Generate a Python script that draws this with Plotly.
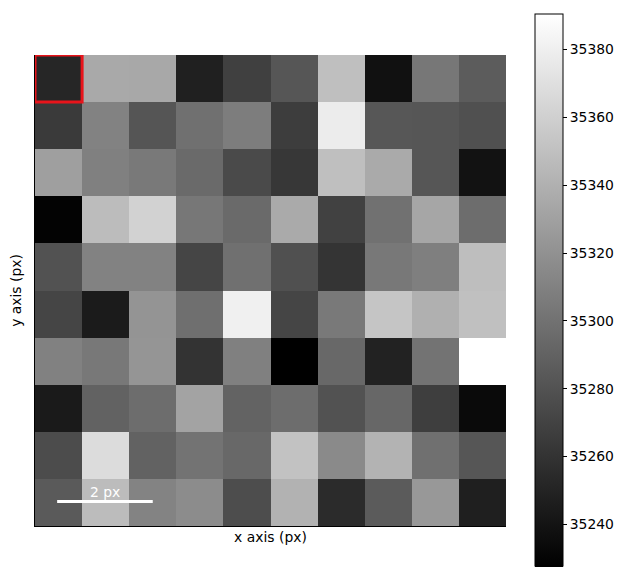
import plotly.graph_objects as go

x_idx = list(range(10))
y_idx = list(range(10))

row0 = [35251.8, 35335.4, 35334.8, 35248.0, 35268.4, 35282.5, 35349.5, 35238.4, 35303.5, 35286.3]
row1 = [35264.6, 35310.5, 35281.8, 35299.1, 35307.4, 35266.5, 35378.2, 35283.1, 35282.5, 35278.6]
row2 = [35329.0, 35309.3, 35304.8, 35295.2, 35274.8, 35262.7, 35349.5, 35336.1, 35282.5, 35239.1]
row3 = [35229.5, 35347.5, 35361.6, 35303.5, 35295.2, 35336.1, 35269.1, 35299.7, 35333.5, 35297.1]
row4 = [35279.9, 35310.5, 35310.5, 35271.6, 35299.1, 35278.6, 35260.8, 35304.2, 35308.6, 35348.8]
row5 = [35271.6, 35244.8, 35322.0, 35298.4, 35380.7, 35271.6, 35304.8, 35353.3, 35339.9, 35350.1]
row6 = [35309.9, 35304.2, 35322.7, 35260.1, 35309.3, 35227.6, 35294.0, 35249.3, 35301.0, 35390.3]
row7 = [35244.2, 35290.1, 35297.1, 35331.6, 35290.8, 35297.1, 35279.9, 35293.3, 35267.2, 35234.0]
row8 = [35276.1, 35368.0, 35290.1, 35301.0, 35294.0, 35351.4, 35315.6, 35341.8, 35299.1, 35282.5]
row9 = [35285.0, 35347.5, 35311.2, 35316.9, 35276.7, 35341.2, 35255.0, 35285.7, 35324.6, 35247.4]
z = [row0, row1, row2, row3, row4, row5, row6, row7, row8, row9]

cb_ticks = [35240, 35260, 35280, 35300, 35320, 35340, 35360, 35380]

FONT = "DejaVu Sans"

fig = go.Figure(go.Heatmap(
    x=x_idx, y=y_idx, z=z,
    colorscale=[[0, "black"], [1, "white"]],
    zmin=min(min(r) for r in z), zmax=max(max(r) for r in z),
    colorbar=dict(
        x=1.0616, xanchor="left", xpad=0,
        y=0.5, yanchor="middle", ypad=0,
        len=552, lenmode="pixels",
        thickness=28, thicknessmode="pixels",
        outlinewidth=1, outlinecolor="black",
        tickvals=cb_ticks, tickformat="d",
        ticks="outside", ticklen=4, tickwidth=1, tickcolor="black",
        tickfont=dict(family=FONT, size=13.9, color="black"),
    ),
    hoverinfo="skip",
))

# highlight rectangle and scale bar
fig.add_shape(type="rect", x0=-0.5, x1=0.5, y0=-0.5, y1=0.5,
              xref="x", yref="y", line=dict(color="#e8141b", width=3))
fig.add_shape(type="line", x0=-0.03, x1=2.0, y0=8.98, y1=8.98,
              xref="x", yref="y", line=dict(color="white", width=3))
fig.add_annotation(x=0.98, y=8.98, xref="x", yref="y", text="2 px",
                   showarrow=False, yanchor="bottom", yshift=0,
                   font=dict(family=FONT, size=13.9, color="white"))

fig.update_xaxes(range=[-0.5, 9.5], showticklabels=False, ticks="",
                 showgrid=False, zeroline=False, showline=True,
                 linecolor="black", linewidth=1, automargin=False,
                 title=dict(text="x axis (px)", standoff=6,
                            font=dict(family=FONT, size=13.9, color="black")))
fig.update_yaxes(range=[9.5, -0.5], showticklabels=False, ticks="",
                 showgrid=False, zeroline=False, showline=True,
                 linecolor="black", linewidth=1, automargin=False,
                 title=dict(text="y axis (px)", standoff=9,
                            font=dict(family=FONT, size=13.9, color="black")))

# page body has an 8px margin, so the figure is offset by (8, 8)
fig.update_layout(
    width=632, height=573,
    margin=dict(l=27, r=134, t=47, b=55, autoexpand=False),
    paper_bgcolor="white", plot_bgcolor="white",
    font=dict(family=FONT, size=13.9, color="black"),
)

fig.write_html("out.html")
